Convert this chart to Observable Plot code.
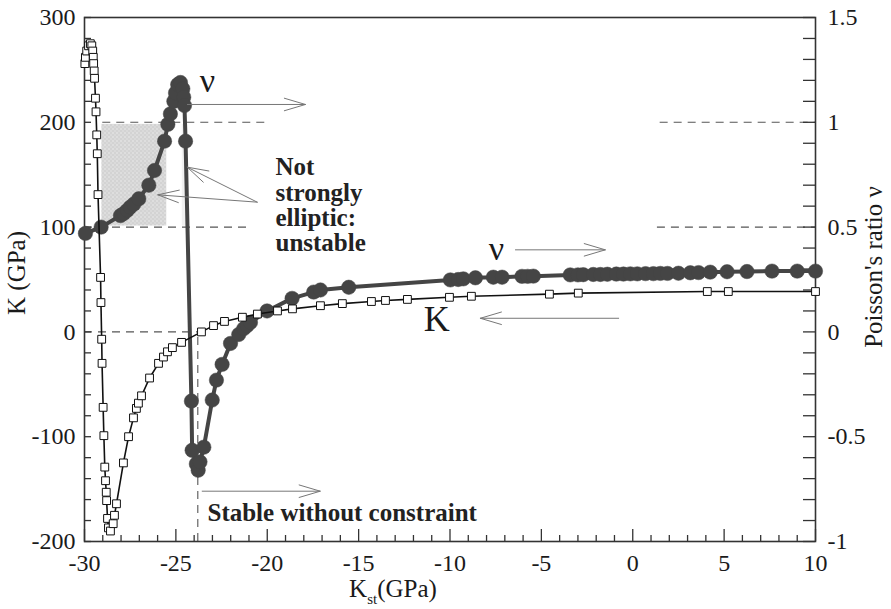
<!DOCTYPE html>
<html><head><meta charset="utf-8">
<script src="https://cdn.jsdelivr.net/npm/d3@7"></script>
<script src="https://cdn.jsdelivr.net/npm/@observablehq/plot@0.6"></script>
<style>body{margin:0;background:#fff}#chart{width:891px;height:609px}</style>
</head><body><div id="chart"></div>
<script>
// ---------- data ----------
// Bulk modulus K (GPa) vs K_st (GPa): open squares
const kSt = [-29.98,-29.95,-29.88,-29.78,-29.68,-29.60,-29.55,-29.52,-29.50,-29.47,-29.45,-29.40,-29.37,-29.33,-29.30,-29.26,-29.12,-29.10,-29.06,-29.04,-28.98,-28.94,-28.89,-28.85,-28.81,-28.79,-28.74,-28.69,-28.58,-28.43,-28.36,-28.25,-27.87,-27.59,-27.32,-27.16,-27.05,-26.88,-26.44,-25.95,-25.68,-25.46,-25.19,-24.69,-23.60,-22.94,-22.34,-21.36,-20.54,-19.44,-18.62,-17.09,-15.89,-14.30,-13.53,-12.33,-10.03,-8.83,-4.56,-2.98,4.08,5.23,10.0];
const kVal = [256,262,268,273,275,273,268,262,256,249,242,223,210,188,170,131,52,28,-7,-30,-72,-99,-129,-142,-153,-161,-178,-187,-190,-183,-175,-164,-125,-100,-82,-73,-68,-61,-44,-30,-24,-19,-15,-10,0,6,10,14,17,20,22,25,27,29,30,31,33,34,36,37,38.5,38.5,38.5];
// Poisson's ratio nu vs K_st: filled circles
const nuSt = [-29.95,-29.09,-28.03,-27.85,-27.66,-27.50,-27.30,-27.03,-26.48,-26.17,-25.62,-25.44,-25.30,-25.11,-25.02,-24.90,-24.75,-24.62,-24.57,-24.53,-24.47,-24.15,-24.11,-23.88,-23.78,-23.68,-23.47,-23.01,-22.78,-22.47,-22.01,-21.56,-21.29,-21.10,-20.92,-20.01,-18.64,-17.46,-17.09,-15.54,-9.98,-9.55,-9.27,-8.61,-7.63,-7.15,-6.06,-5.75,-5.44,-3.42,-3.0,-2.71,-2.16,-1.77,-1.39,-0.9,-0.51,-0.13,0.25,0.7,1.13,1.51,1.9,2.5,3.15,3.6,4.24,5.16,6.25,7.62,9.0,10.0];
const nuVal = [0.47,0.50,0.555,0.565,0.58,0.595,0.61,0.635,0.70,0.77,0.91,0.99,1.04,1.10,1.14,1.18,1.19,1.16,1.12,1.08,0.91,-0.33,-0.565,-0.63,-0.66,-0.62,-0.55,-0.325,-0.23,-0.155,-0.055,-0.0125,0.015,0.03,0.045,0.10,0.16,0.19,0.20,0.213,0.248,0.25,0.253,0.258,0.261,0.261,0.265,0.265,0.266,0.272,0.272,0.273,0.274,0.274,0.275,0.276,0.276,0.277,0.277,0.278,0.278,0.279,0.279,0.28,0.282,0.283,0.285,0.287,0.288,0.29,0.29,0.29];
// axes
const xTickLabels = [-30,-25,-20,-15,-10,-5,0,5,10];
const kTickLabels = [-200,-100,0,100,200,300];
const nuTickLabels = [-1,-0.5,0,0.5,1,1.5];
const NU_TO_K = 200; // right axis nu = K / 200
// annotations
const unstableBox = {x1:-29.05, x2:-25.5, y1:101, y2:198};
const unstableStrip = {x1:-24.65, x2:-24.35, y1:101, y2:198};
const dashY  = [200, 100, 0, 200, 100];
const dashX1 = [-29.0, -30, -30, 1.5, 1.35];
const dashX2 = [-20.1, -20.9, -23.8, 10, 10];
const stableX = -23.8;
const arrowX1 = [-24.37, -20.55, -20.55, -6.42, -0.77, -23.56];
const arrowY1 = [217, 123.8, 123.8, 78.3, 13, -152];
const arrowX2 = [-17.91, -24.38, -25.99, -1.5, -8.34, -17.1];
const arrowY2 = [217, 157.2, 130.8, 78.3, 13, -152];
const labelText = ["ν", "ν", "K"];
const labelX = [-23.27, -7.46, -10.72];
const labelY = [239, 78.6, 12.3];
const labelSize = [34, 34, 36];
const noteText = ["Not\nstrongly\nelliptic:\nunstable", "Stable without constraint"];
const noteX = [-19.55, -23.27];
const noteY = [120.9, -172.3];

// ---------- layout ----------
const W = 891, H = 609, ML = 84, MR = 76, MT = 17, MB = 68;
const xDom = [-30, 10], yDom = [-200, 300];
const ux = (xDom[1]-xDom[0])/(W-ML-MR), uy = (yDom[1]-yDom[0])/(H-MT-MB);
const serif = "'Liberation Serif', 'Times New Roman', serif";

const kData = kSt.map((x,i)=>({x, y:kVal[i]}));
const nuData = nuSt.map((x,i)=>({x, y:nuVal[i]*NU_TO_K}));
const dashes = dashY.map((y,i)=>({y, x1:dashX1[i], x2:dashX2[i]}));
const arrows = arrowX1.map((x1,i)=>({x1, y1:arrowY1[i], x2:arrowX2[i], y2:arrowY2[i]}));
const labels = labelText.map((t,i)=>({t, x:labelX[i], y:labelY[i], s:labelSize[i]}));
const notes = noteText.map((t,i)=>({t, x:noteX[i], y:noteY[i]}));

const xMinor = d3.range(-30, 10.5, 1);
const yMinor = d3.range(-200, 300.5, 20);

const plot = Plot.plot({
  width: W, height: H, marginLeft: ML, marginRight: MR, marginTop: MT, marginBottom: MB,
  style: {fontFamily: serif, fontSize: "24px", color: "#1a1a1a", background: "#fff", overflow: "visible"},
  x: {domain: xDom},
  y: {domain: yDom},
  marks: [
    Plot.rect([unstableBox], {x1:"x1", x2:"x2", y1:"y1", y2:"y2", fill:"url(#stipple)"}),
    Plot.rect([unstableStrip], {x1:"x1", x2:"x2", y1:"y1", y2:"y2", fill:"#f1f1f1"}),
    Plot.ruleY(dashes, {y:"y", x1:"x1", x2:"x2", stroke:"#555", strokeWidth:1.1, strokeDasharray:"8,6"}),
    Plot.ruleX([stableX], {x: d=>d, y1: yDom[0], y2: 0, stroke:"#555", strokeWidth:1.1, strokeDasharray:"8,6"}),
    // ticks (inward)
    Plot.ruleX(xMinor, {x: d=>d, y1: yDom[0], y2: d => yDom[0] + (xTickLabels.includes(d) ? 12 : 6)*uy, stroke:"#333", strokeWidth:1.3}),
    Plot.ruleY(yMinor, {y: d=>d, x1: xDom[0], x2: xDom[0] + 7*ux, stroke:"#333", strokeWidth:1.3}),
    Plot.ruleY(yMinor, {y: d=>d, x1: xDom[1] - 12*ux, x2: xDom[1], stroke:"#333", strokeWidth:1.3}),
    Plot.axisX(xTickLabels, {tickSize:0, tickPadding:12, tickFormat: d=>String(d), fontSize:24, label:null}),
    Plot.axisY(kTickLabels, {anchor:"left", tickSize:0, tickPadding:9, tickFormat: d=>String(d), fontSize:24, label:null}),
    Plot.axisY(nuTickLabels.map(v=>v*NU_TO_K), {anchor:"right", tickSize:0, tickPadding:12, tickFormat: d=>String(d/NU_TO_K), fontSize:24, label:null}),
    Plot.frame({stroke:"#333", strokeWidth:1.6}),
    // nu series
    Plot.line(nuData, {x:"x", y:"y", stroke:"#454545", strokeWidth:4}),
    Plot.dot(nuData, {x:"x", y:"y", r:7.2, fill:"#454545", stroke:"#454545", strokeWidth:0.5}),
    // K series
    Plot.line(kData, {x:"x", y:"y", stroke:"#111", strokeWidth:1.6}),
    Plot.dot(kData, {x:"x", y:"y", symbol:"square", r:4.4, fill:"#fff", stroke:"#111", strokeWidth:1}),
    // annotations
    Plot.arrow(arrows, {x1:"x1", y1:"y1", x2:"x2", y2:"y2", stroke:"#777", strokeWidth:1, headLength:33, headAngle:33, bend:0}),
    Plot.text(labels, {x:"x", y:"y", text:"t", fontSize: d=>d.s, fill:"#1a1a1a", fontFamily:serif}),
    Plot.text(notes, {x:"x", y:"y", text:"t", textAnchor:"start", fontSize:25, fontWeight:"bold", lineHeight:1.01, fill:"#222", fontFamily:serif})
  ]
});
document.getElementById("chart").append(plot);

// stipple pattern for the unstable zone
const svg = d3.select(plot);
const defs = svg.insert("defs", ":first-child");
const pat = defs.append("pattern").attr("id","stipple").attr("width",4).attr("height",4).attr("patternUnits","userSpaceOnUse");
pat.append("rect").attr("width",4).attr("height",4).attr("fill","#d3d3d3");
pat.append("circle").attr("cx",1).attr("cy",1).attr("r",0.8).attr("fill","#ececec");
pat.append("circle").attr("cx",3).attr("cy",3).attr("r",0.8).attr("fill","#e4e4e4");

// axis titles
const midY = (MT + H - MB)/2;
svg.append("text").attr("transform",`translate(25,${midY - 6}) rotate(-90)`).attr("text-anchor","middle")
  .attr("font-family",serif).attr("font-size",25).attr("fill","#1a1a1a").text("K (GPa)");
svg.append("text").attr("transform",`translate(882,${midY - 12}) rotate(-90)`).attr("text-anchor","middle")
  .attr("font-family",serif).attr("font-size",25).attr("fill","#1a1a1a").text("Poisson's ratio ν");
const xl = svg.append("text").attr("x",393).attr("y",597).attr("font-family",serif).attr("font-size",25).attr("fill","#1a1a1a");
xl.append("tspan").text("K");
xl.append("tspan").attr("font-size",15).attr("dy",7).text("st");
xl.append("tspan").attr("dy",-7).text("(GPa)");
</script>
</body></html>
